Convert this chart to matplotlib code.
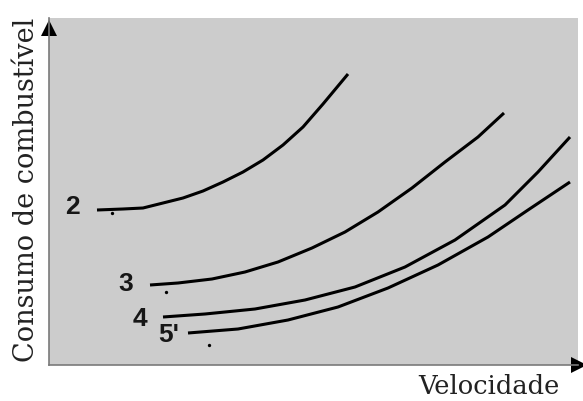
import matplotlib
matplotlib.use("Agg")
import matplotlib.pyplot as plt

# Data in arbitrary chart units (x: velocidade 0-529, y: consumo 0-347)
gear_labels = ["2", "3", "4", "5'"]
c2_x = [48, 74, 94, 114, 134, 154, 174, 194, 214, 234, 254, 274, 299]
c2_y = [155, 156, 157, 162, 167, 174, 183, 193, 205, 220, 238, 261, 291]
c3_x = [101, 129, 163, 196, 229, 263, 296, 329, 363, 396, 429, 455]
c3_y = [80, 82, 86, 93, 103, 117, 133, 153, 177, 203, 228, 252]
c4_x = [114, 156, 206, 256, 306, 356, 406, 456, 489, 521]
c4_y = [48, 51, 56, 65, 78, 98, 125, 160, 193, 228]
c5_x = [139, 189, 239, 289, 339, 389, 439, 479, 521]
c5_y = [32, 36, 45, 58, 77, 100, 128, 155, 183]
label_x = [23, 77, 90.5, 120]
label_y = [158, 81, 46, 30]
dot_x = [63, 117, 160]
dot_y = [152, 73, 20]
X_MAX, Y_MAX = 529, 347

W, H = 583, 401
fig = plt.figure(figsize=(W / 100, H / 100), dpi=100)
L, R, T, B = 49, 578, 18, 365
ax = fig.add_axes([L / W, (H - B) / H, (R - L) / W, (B - T) / H])
ax.set_facecolor("#cccccc")
ax.set_xlim(0, X_MAX)
ax.set_ylim(0, Y_MAX)
for s in ["top", "right"]:
    ax.spines[s].set_visible(False)
for s in ["left", "bottom"]:
    ax.spines[s].set_color("#7a7a7a")
    ax.spines[s].set_linewidth(1.2)
ax.set_xticks([])
ax.set_yticks([])

for xs, ys in [(c2_x, c2_y), (c3_x, c3_y), (c4_x, c4_y), (c5_x, c5_y)]:
    ax.plot(xs, ys, color="black", lw=2.2, solid_capstyle="butt", solid_joinstyle="round")

for lab, x, y in zip(gear_labels, label_x, label_y):
    ax.text(x, y, lab, ha="center", va="center", fontsize=19, fontweight="bold",
            family="Liberation Sans", color="#161616")

ax.plot(dot_x, dot_y, "o", color="black", ms=2.4, mew=0)

# arrows
ax.plot([0], [Y_MAX - 10], marker="^", color="black", ms=11, mew=0, clip_on=False)
ax.plot([X_MAX + 1], [0], marker=">", color="black", ms=11, mew=0, clip_on=False)

fig.text(27 / W, (H - 190) / H, "Consumo de combustível", rotation=90, ha="center", va="center",
         fontsize=19.5, family="DejaVu Serif", color="#222222")
fig.text(489 / W, (H - 386) / H, "Velocidade", ha="center", va="center",
         fontsize=18.5, family="DejaVu Serif", color="#222222")

fig.savefig("out.png", dpi=100)
